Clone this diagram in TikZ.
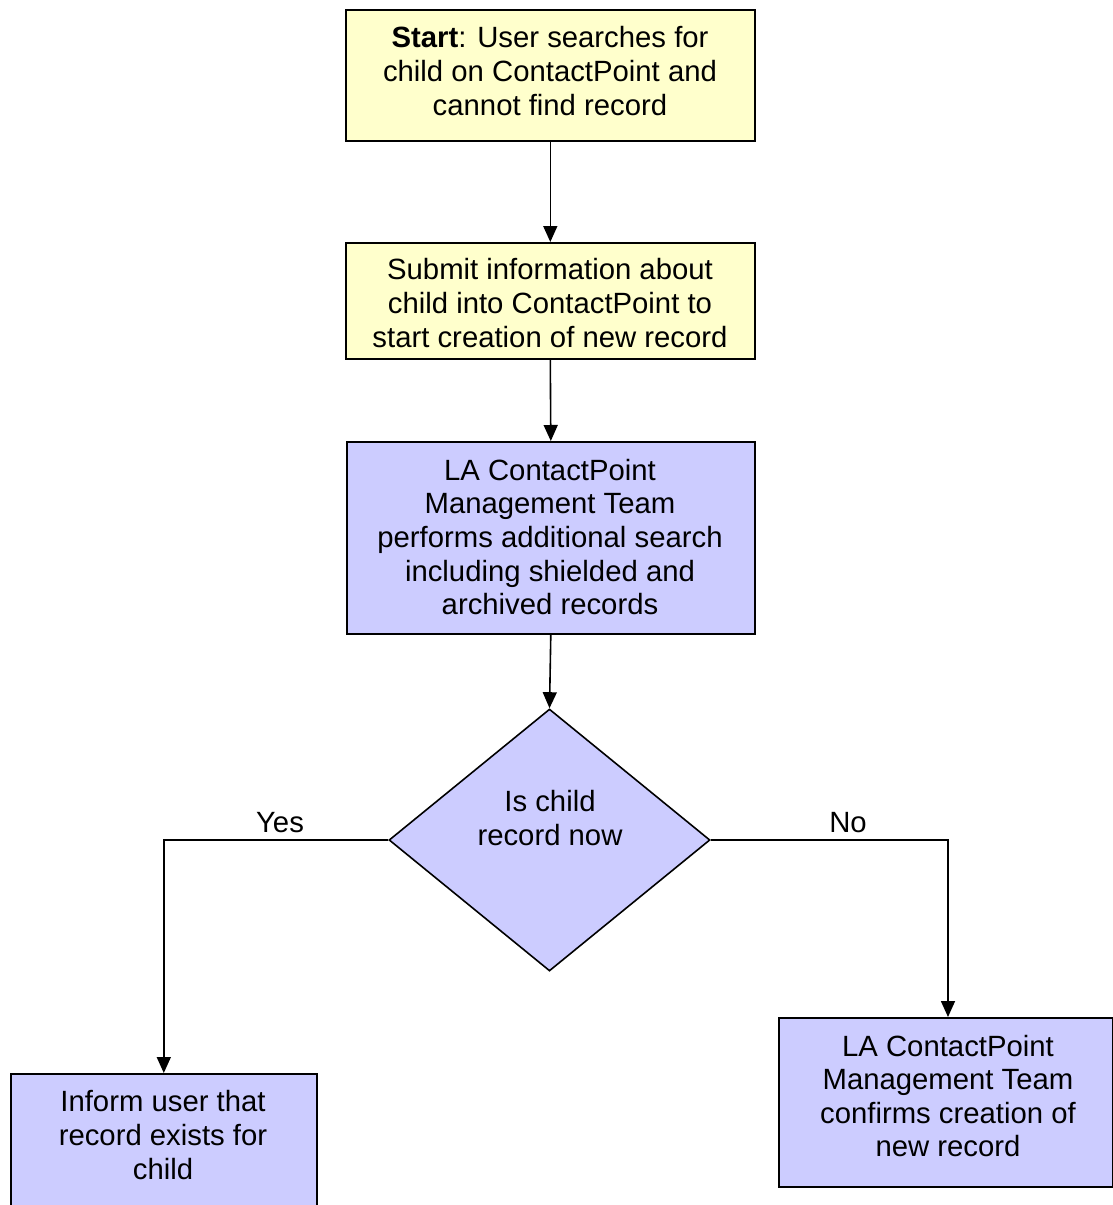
\documentclass[tikz,border=0pt]{standalone}
\usepackage{fontspec}
\setmainfont{Liberation Sans}
\usetikzlibrary{arrows.meta,shapes.geometric}
\definecolor{pyellow}{HTML}{FFFFCC}
\definecolor{pblue}{HTML}{CCCCFF}
\begin{document}
\begin{tikzpicture}[x=1pt,y=1pt,
  every node/.style={font=\fontsize{29.3}{33.6}\selectfont},
  box/.style={draw=black, line width=1.6pt, rectangle, inner sep=0pt, anchor=north west},
  ybox/.style={box, fill=pyellow},
  bbox/.style={box, fill=pblue},
  txt/.style={align=center, inner sep=0pt},
  conn/.style={line width=1.6pt, -{Triangle[length=16pt,width=14pt]}},
  lbl/.style={inner sep=0pt}
]
\useasboundingbox (0,0) rectangle (1113,-1205);
\clip (0,0) rectangle (1113,-1205);
\node[ybox, minimum width=409, minimum height=131] (start) at (345,-9) {};
\node[txt] (starttext) at (550,-71)
  {\textbf{Start}: User searches for\\child on ContactPoint and\\cannot find record};
\node[ybox, minimum width=409, minimum height=116] (submit) at (345,-242) {};
\node[txt] (submittext) at (550,-303)
  {Submit information about\\child into ContactPoint to\\start creation of new record};
\node[bbox, minimum width=408, minimum height=192] (search) at (346,-441) {};
\node[txt] (searchtext) at (550,-537)
  {LA ContactPoint\\Management Team\\performs additional search\\including shielded and\\archived records};
\node[draw=black, line width=1.6pt, fill=pblue, shape=diamond, aspect=1.2252, inner sep=0pt,
  minimum width=321, minimum height=262] (dec) at (549.5,-840) {};
\node[txt] (dectext) at (550,-818) {Is child\\record now};
\node[bbox, minimum width=306, minimum height=170] (inform) at (10,-1073) {};
\node[txt] (informtext) at (163,-1135) {Inform user that\\record exists for\\child};
\node[bbox, minimum width=334, minimum height=169] (confirm) at (778,-1017) {};
\node[txt] (confirmtext) at (948,-1096)
  {LA ContactPoint\\Management Team\\confirms creation of\\new record};
\draw[conn] (start.south) -- (submit.north);
\draw[conn] (submit.south) -- (search.north);
\draw[conn] (search.south) -- (dec.north);
\draw[conn] (dec.west) -| (inform.north);
\draw[conn] (dec.east) -| (confirmtext.north |- confirm.north);
\node[lbl] (yes) at (280,-823) {Yes};
\node[lbl] (no) at (848,-823) {No};
\end{tikzpicture}
\end{document}
